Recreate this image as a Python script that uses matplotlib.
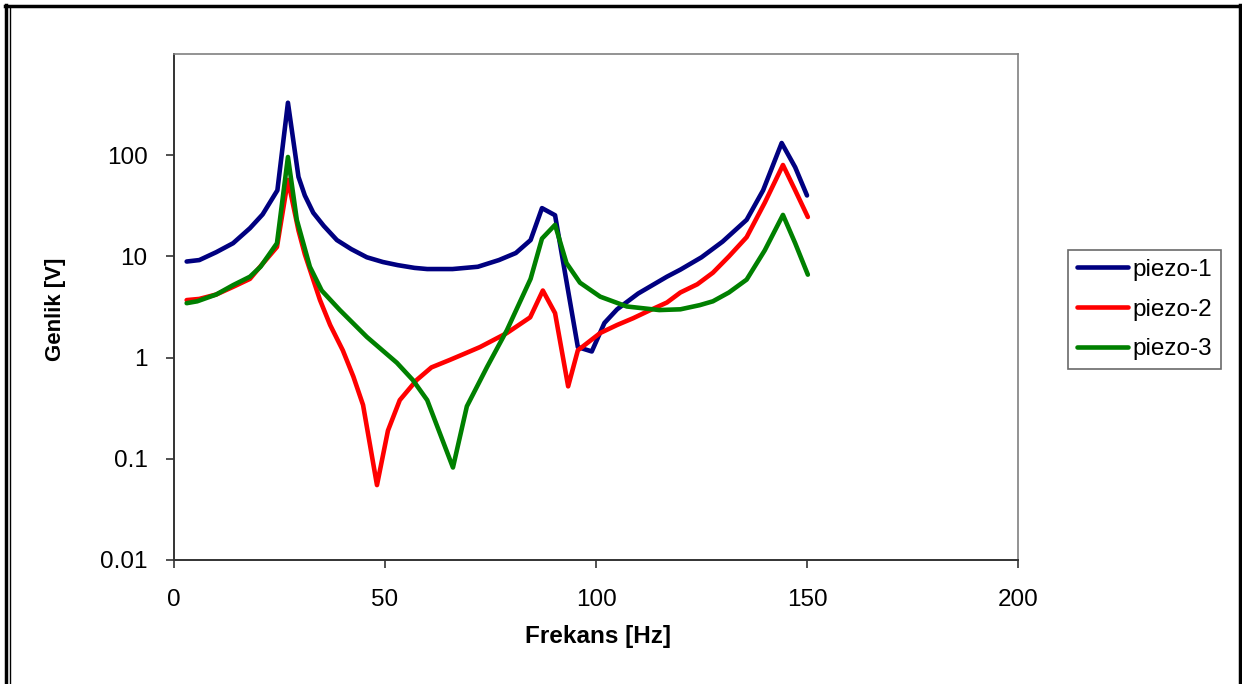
import matplotlib
matplotlib.use("Agg")
import matplotlib.pyplot as plt
from matplotlib.lines import Line2D

# ---- data ----
x_p1 = [3, 6, 10, 14, 18, 21, 24.5, 27, 29.5, 31, 33, 35.5, 38.6, 42, 45.7, 49.5, 53, 57, 60, 66, 72, 77, 81,
        84.5, 87.2, 90.3, 95.7, 99, 102, 105, 110, 116.8, 120, 125, 130, 135.7, 139.6, 144, 147.2, 150]
y_p1 = [8.9, 9.2, 11, 13.5, 19, 26, 45, 330, 61, 40, 27, 20, 14.5, 11.8, 9.8, 8.8, 8.2, 7.7, 7.5, 7.5, 7.9,
        9.2, 10.8, 14.5, 30, 25.5, 1.27, 1.15, 2.2, 3.0, 4.3, 6.3, 7.4, 9.8, 14, 23, 45, 132, 76, 40]

x_p2 = [3, 6, 10, 14, 18, 20.4, 24.4, 27, 29.5, 31, 34.6, 37, 40, 42.5, 44.8, 48.1, 50.7, 53.5, 57.5,
        61, 65.4, 69, 72.5, 78.9, 84.4, 87.4, 90.3, 93.4, 95.7, 101, 105, 108.8, 112.5, 116.8, 120,
        124, 127.7, 131.5, 135.7, 140, 144.3, 147.2, 150.2]
y_p2 = [3.7, 3.8, 4.2, 5.0, 6.0, 7.9, 12.4, 57, 18, 10.5, 3.7, 2.1, 1.18, 0.65, 0.34, 0.055, 0.19, 0.38, 0.6,
        0.8, 0.95, 1.1, 1.27, 1.75, 2.5, 4.6, 2.75, 0.52, 1.18, 1.75, 2.1, 2.45, 2.9, 3.5, 4.4,
        5.3, 6.9, 10, 15.5, 34, 80, 45, 24.5]

x_p3 = [3, 5.5, 10, 14, 18, 20.5, 24.4, 27, 29.1, 32.2, 35, 39.3, 45.7, 52.8, 56.6, 60, 66.1, 69.4, 74.2,
        78.9, 84.5, 87.2, 90.3, 93, 96.2, 101, 107.3, 115, 120, 124.6, 127.7, 131.5, 135.7, 140, 144.3,
        147.2, 150.2]
y_p3 = [3.45, 3.6, 4.2, 5.2, 6.3, 7.9, 13.5, 96, 23, 7.9, 4.6, 2.95, 1.6, 0.89, 0.6, 0.38, 0.082, 0.33, 0.81,
        1.87, 6.0, 15, 20.5, 8.6, 5.5, 4.0, 3.2, 2.95, 3.0, 3.3, 3.6, 4.4, 5.9, 11.5, 25.7,
        13.5, 6.6]

series_labels = ["piezo-1", "piezo-2", "piezo-3"]
series_colors = ["#000080", "#FF0000", "#008000"]

x_ticks = [0, 50, 100, 150, 200]
y_ticks = [0.01, 0.1, 1, 10, 100]
y_tick_labels = ["0.01", "0.1", "1", "10", "100"]

x_label = "Frekans [Hz]"
y_label = "Genlik [V]"

# ---- figure ----
W, H = 1242, 684
FS = 17.5
plt.rcParams['font.family'] = ['Liberation Sans', 'DejaVu Sans']
fig = plt.figure(figsize=(W / 100, H / 100), dpi=100)
fig.patch.set_facecolor("white")

L, R, T, B = 174, 1018, 54, 560
ax = fig.add_axes([L / W, 1 - B / H, (R - L) / W, (B - T) / H])

for xs, ys, lab, col in zip([x_p1, x_p2, x_p3], [y_p1, y_p2, y_p3], series_labels, series_colors):
    ax.plot(xs, ys, color=col, lw=3.3, label=lab, solid_joinstyle="round", solid_capstyle="round")

ax.set_yscale("log")
ax.set_xlim(0, 200)
ax.set_ylim(0.01, 1000)
ax.set_xticks(x_ticks)
ax.set_xticklabels([str(v) for v in x_ticks])
ax.set_yticks(y_ticks)
ax.set_yticklabels(y_tick_labels)
ax.yaxis.set_minor_locator(matplotlib.ticker.NullLocator())
ax.tick_params(axis="both", which="major", direction="out", length=6, width=1.2,
               color="#333333", labelsize=FS, labelcolor="black")
ax.tick_params(axis="y", pad=13)
ax.tick_params(axis="x", pad=15)

for s in ["left", "bottom"]:
    ax.spines[s].set_color("#333333")
    ax.spines[s].set_linewidth(1.4)
for s in ["top", "right"]:
    ax.spines[s].set_color("#808080")
    ax.spines[s].set_linewidth(1.2)

fig.text(598 / W, 1 - 637 / H, x_label, ha="center", va="center", fontsize=FS, fontweight="bold")
fig.text(55 / W, 1 - 309 / H, y_label, ha="center", va="center", rotation=90, fontsize=16,
         fontweight="bold")

leg = fig.legend(loc="upper left", bbox_to_anchor=(1068 / W, 1 - 250 / H), borderaxespad=0,
                 fontsize=FS, frameon=True, fancybox=False, handlelength=2.1, handletextpad=0.18,
                 labelspacing=0.72, borderpad=0.37)
leg.get_frame().set_edgecolor("#444444")
leg.get_frame().set_linewidth(1.2)
for h in leg.get_lines():
    h.set_linewidth(3.3)

# outer double frame
def fx(px):
    return px / W
def fy(py):
    return 1 - py / H
fig.add_artist(Line2D([fx(5), fx(1242)], [fy(6), fy(6)], color="black", lw=2.5, transform=fig.transFigure))
fig.add_artist(Line2D([fx(6), fx(6)], [fy(5), fy(684)], color="black", lw=2.5, transform=fig.transFigure))
fig.add_artist(Line2D([fx(9.5), fx(9.5)], [fy(7), fy(684)], color="black", lw=1.0, transform=fig.transFigure))
fig.add_artist(Line2D([fx(1239.5), fx(1239.5)], [fy(5), fy(684)], color="black", lw=2.5, transform=fig.transFigure))

fig.savefig("out.png", dpi=100, facecolor="white")
